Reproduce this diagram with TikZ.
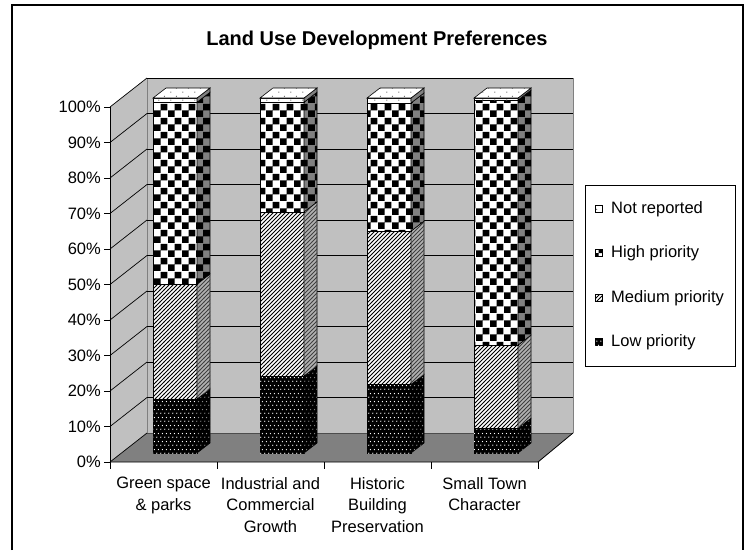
\documentclass[tikz,border=0pt]{standalone}
\usepackage{fontspec}
\setmainfont{Liberation Sans}
\usetikzlibrary{patterns}

\definecolor{wallgray}{HTML}{C0C0C0}
\definecolor{floorgray}{HTML}{808080}

% fill patterns of the four answers
\pgfdeclarepatternformonly{checks}{\pgfpointorigin}{\pgfqpoint{14pt}{14pt}}{\pgfqpoint{14pt}{14pt}}{%
  \pgfpathrectangle{\pgfpointorigin}{\pgfqpoint{7pt}{7pt}}%
  \pgfpathrectangle{\pgfqpoint{7pt}{7pt}}{\pgfqpoint{7pt}{7pt}}%
  \pgfusepath{fill}}
\pgfdeclarepatternformonly{hatch}{\pgfqpoint{-1pt}{-1pt}}{\pgfqpoint{5pt}{5pt}}{\pgfqpoint{4pt}{4pt}}{%
  \pgfsetlinewidth{1pt}%
  \pgfpathmoveto{\pgfpointorigin}%
  \pgfpathlineto{\pgfqpoint{4.1pt}{4.1pt}}%
  \pgfusepath{stroke}}
\pgfdeclarepatternformonly{speckle}{\pgfpointorigin}{\pgfqpoint{4pt}{8pt}}{\pgfqpoint{4pt}{8pt}}{%
  \pgfpathcircle{\pgfqpoint{1pt}{2pt}}{0.75pt}%
  \pgfpathcircle{\pgfqpoint{3pt}{6pt}}{0.75pt}%
  \pgfusepath{fill}}
\pgfdeclarepatternformonly{sparse}{\pgfpointorigin}{\pgfqpoint{12pt}{8pt}}{\pgfqpoint{12pt}{8pt}}{%
  \pgfpathcircle{\pgfqpoint{3pt}{2pt}}{0.7pt}%
  \pgfpathcircle{\pgfqpoint{9pt}{6pt}}{0.7pt}%
  \pgfusepath{fill}}

\begin{document}
\begin{tikzpicture}[x=1pt, y=-1pt,
    every node/.style={inner sep=0pt, font=\fontsize{16.5}{21.5}\selectfont},
    face/.style={draw=black, line width=0.6pt},
    low front/.style={face, fill=black, postaction={pattern=speckle, pattern color=white}},
    low side/.style={face, fill=black, postaction={pattern=speckle, pattern color=black!45}},
    mid front/.style={face, fill=white, postaction={pattern=hatch, pattern color=black}},
    mid side/.style={face, fill=black!30, postaction={pattern=hatch, pattern color=black!75}},
    high front/.style={face, fill=white, postaction={pattern=checks, pattern color=black}},
    high side/.style={face, fill=black!50, postaction={pattern=checks, pattern color=black}},
    nr front/.style={face, fill=white, postaction={pattern=sparse, pattern color=black!60}},
    nr side/.style={face, fill=black!50}]
  \useasboundingbox (0,0) rectangle (749,550);

  % chart frame
  \draw[line width=1.2pt] (12,550) -- (12,5) -- (743,5) -- (743,550);

  \node[font=\bfseries\fontsize{20}{24}\selectfont] (title) at (377,40) {Land Use Development Preferences};

  % walls and floor
  \fill[wallgray] (147,78) rectangle (573,433);
  \fill[wallgray] (110,107) -- (147,78) -- (147,433) -- (110,462) -- cycle;
  \fill[floorgray] (110,462) -- (147,433) -- (573,433) -- (538,462) -- cycle;
  \draw[floorgray, line width=0.8pt] (147,78) -- (147,433);
  \draw[floorgray, line width=0.8pt] (573,78) -- (573,433);
  \draw[black!70, line width=0.6pt] (147,433) -- (573,433);

  % gridlines
  \foreach \p in {0,10,...,100} {
    \pgfmathsetmacro\yb{433-3.55*\p}
    \draw[line width=0.7pt] (110,\yb+29) -- (147,\yb);
    \ifnum\p>0 \draw[line width=0.7pt] (147,\yb) -- (573,\yb); \fi
  }

  % value axis
  \draw[line width=0.8pt] (110,107) -- (110,462);
  \foreach \p in {0,10,...,100} {
    \pgfmathsetmacro\yf{462-3.55*\p}
    \draw[line width=0.8pt] (104,\yf) -- (110,\yf);
    \node[anchor=east] (pct\p) at (101,\yf) {\p\%};
  }

  % category axis
  \draw[line width=0.8pt] (110,462) -- (538,462) -- (573,433);
  \foreach \x in {110,217,324,431,538}
    \draw[line width=0.8pt] (\x,462) -- (\x,469);
  \node[anchor=north, align=center] (green) at (163.5,477) {Green space\\\& parks};
  \node[anchor=north, align=center] (industrial) at (270.5,477) {Industrial and\\Commercial\\Growth};
  \node[anchor=north, align=center] (historic) at (377.5,477) {Historic\\Building\\Preservation};
  \node[anchor=north, align=center] (smalltown) at (484.5,477) {Small Town\\Character};

  % stacked bars
  \foreach \i/\a/\b/\c in {0/15.2/47.6/98.8, 1/21.7/67.9/98.8, 2/19.3/62.5/98.6, 3/7.0/30.4/99.4} {
    \pgfmathsetmacro\xl{153+107*\i}
    \pgfmathsetmacro\xr{\xl+44}
    \foreach \u/\v/\kind in {0/\a/low, \a/\b/mid, \b/\c/high, \c/100/nr} {
      \pgfmathsetmacro\yu{453-3.55*\u}
      \pgfmathsetmacro\yv{453-3.55*\v}
      \draw[\kind\space front] (\xl,\yu) rectangle (\xr,\yv);
      \draw[\kind\space side] (\xr,\yu) -- (\xr+13,\yu-10) -- (\xr+13,\yv-10) -- (\xr,\yv) -- cycle;
    }
    \draw[nr front] (\xl,98) -- (\xl+13,88) -- (\xr+13,88) -- (\xr,98) -- cycle;
  }

  % legend
  \draw[fill=white, line width=0.6pt] (585,185) rectangle (735,366);
  \foreach \k/\t/\y in {nr/Not reported/209, high/High priority/253, mid/Medium priority/298, low/Low priority/342} {
    \draw[\k\space front] (595,\y-3.5) rectangle (602,\y+3.5);
    \node[anchor=west] (key\k) at (611,\y) {\t};
  }
  % small checker of the high key
  \fill (598.5,249.5) rectangle (602,253) (595,253) rectangle (598.5,256.5);
  \draw[line width=0.6pt] (595,249.5) rectangle (602,256.5);
\end{tikzpicture}
\end{document}
